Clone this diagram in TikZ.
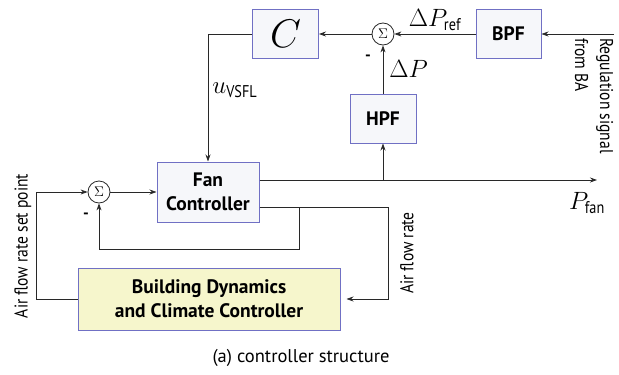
\RequirePackage{fix-cm}
\documentclass[tikz,border=0pt]{standalone}
\usepackage{amsmath}
\usepackage[no-math]{fontspec}
\setmainfont{PT Sans}
\newfontfamily\narrowsans{PT Sans}[FakeStretch=0.84]
\usetikzlibrary{arrows.meta,positioning,calc}
\definecolor{blockedge}{RGB}{112,112,196}
\definecolor{blockfill}{RGB}{246,247,250}
\definecolor{plantfill}{RGB}{246,246,204}
\definecolor{wirecol}{RGB}{40,40,40}
\newcommand{\subtxt}[1]{\text{\narrowsans\fontsize{17}{17}\selectfont #1}}

\begin{document}
\begin{tikzpicture}[x=1pt, y=-1pt, >={Stealth[length=7pt,width=5pt]},
    blockbox/.style={draw=blockedge, fill=blockfill, line width=1pt, rectangle, align=center, inner sep=0pt, font=\fontsize{19.5}{24}\selectfont\bfseries},
    sumnode/.style={draw=wirecol, circle, line width=0.8pt, minimum size=22pt, inner sep=0pt, font=\fontsize{14}{14}\selectfont},
    wire/.style={draw=wirecol, line width=0.8pt},
    mathlbl/.style={inner sep=2pt, font=\fontsize{25}{25}\selectfont},
    textlbl/.style={inner sep=0pt, font=\narrowsans\fontsize{18.5}{25}\selectfont},
    minuslbl/.style={inner sep=0pt, font=\fontsize{16}{16}\selectfont\bfseries}]
    \useasboundingbox (0,0) rectangle (619,375);

    % Upper loop: band pass reference against high pass measurement
    \node [blockbox, minimum width=66pt, minimum height=49pt, font=\fontsize{40}{40}\selectfont] (ctrl) at (285.5,34) {$C$};
    \node [sumnode] (sumref) at (383,34) {$\Sigma$};
    \node [blockbox, minimum width=65pt, minimum height=49pt] (bpf) at (508.5,34) {BPF};
    \node [blockbox, minimum width=66pt, minimum height=49pt] (hpf) at (383,118.5) {HPF};
    \coordinate (regin) at (614,34);

    % Lower loop: fan and building
    \node [blockbox, minimum width=102pt, minimum height=60pt] (fan) at (208,192) {Fan\\Controller};
    \node [sumnode] (sumair) at (99,192) {$\Sigma$};
    \node [blockbox, fill=plantfill, minimum width=262pt, minimum height=62pt] (bld) at (209,299) {Building Dynamics\\and Climate Controller};
    \coordinate (fanhi) at ($(fan.east)+(0,-12)$);
    \coordinate (fanlo) at ($(fan.east)+(0,15)$);
    \coordinate (pout) at (597,180);
    \coordinate (tap) at (hpf.south |- fanhi);
    \coordinate (fbtap) at (299,207);
    \coordinate (rateturn) at (388,207);

    % Edges
    \draw[wire,->] (regin) -- (bpf);
    \draw[wire,->] (bpf) -- node[mathlbl, above=1pt] {$\Delta P_{\subtxt{ref}}$} (sumref);
    \draw[wire,->] (sumref) -- (ctrl);
    \draw[wire,->] (hpf) -- node[mathlbl, right=4pt] {$\Delta P$} (sumref);
    \draw[wire,->] (ctrl.west) -| node[mathlbl, pos=0.72, right=2pt] {$u_{\subtxt{VSFL}}$} (fan.north);
    \draw[wire,->] (fanhi) -- (pout);
    \draw[wire,->] (tap) -- (hpf.south);
    \draw[wire] (fanlo) -- (rateturn);
    \draw[wire,->, shorten >=6pt] (rateturn) |- (bld.east);
    \draw[wire,->] (fbtap) -- ++(0,42) -| (sumair.south);
    \draw[wire,->] (bld.west) -- ++(-41,0) |- (sumair.west);
    \draw[wire,->] (sumair) -- (fan);

    % Labels
    \node [minuslbl] (minusref) at (368,58) {-};
    \node [minuslbl] (minusair) at (86,216) {-};
    \node [mathlbl] (pfanlbl) at (587,203) {$P_{\subtxt{fan}}$};
    \node [textlbl, rotate=-90, anchor=west, align=left] (reglbl) at (594,38) {Regulation signal\\from BA};
    \node [textlbl, rotate=90] (ratelbl) at (407,253) {Air flow rate};
    \node [textlbl, rotate=90] (setlbl) at (23,246) {Air flow rate set point};
    \node [textlbl, font=\fontsize{18.5}{22}\selectfont] (caption) at (301,358) {(a) controller structure};
\end{tikzpicture}
\end{document}
